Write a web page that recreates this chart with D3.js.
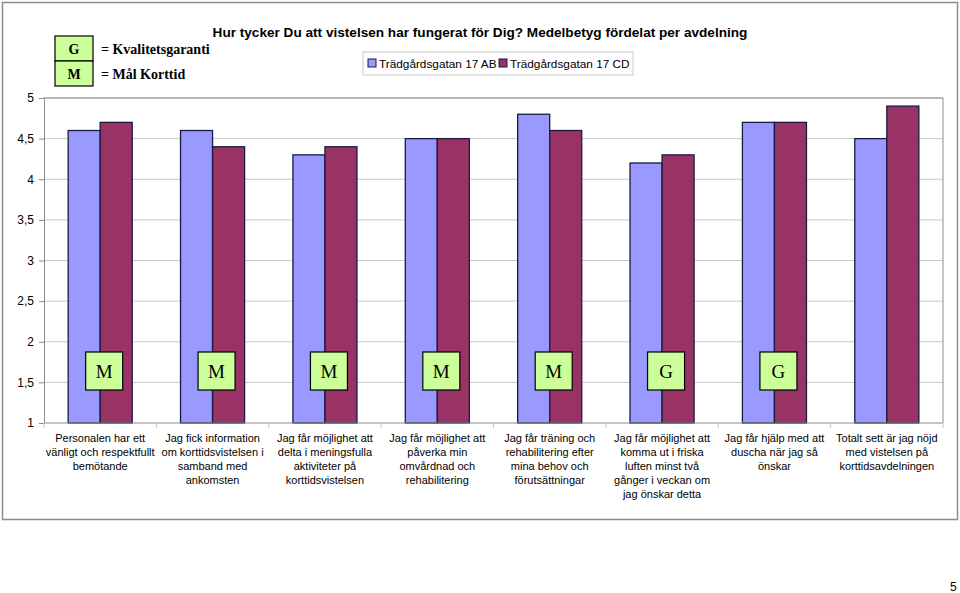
<!DOCTYPE html>
<html>
<head>
<meta charset="utf-8">
<script src="https://cdn.jsdelivr.net/npm/d3@7"></script>
<style>
  body { margin: 0; background: #fff; }
  text { font-family: Arial, "Liberation Sans", sans-serif; }
</style>
</head>
<body>
<div id="chart"></div>
<script>
var categories = [
    ["Personalen har ett", "vänligt och respektfullt", "bemötande"],
    ["Jag fick information", "om korttidsvistelsen i", "samband med", "ankomsten"],
    ["Jag får möjlighet att", "delta i meningsfulla", "aktiviteter på", "korttidsvistelsen"],
    ["Jag får möjlighet att", "påverka min", "omvårdnad och", "rehabilitering"],
    ["Jag får träning och", "rehabilitering efter", "mina behov och", "förutsättningar"],
    ["Jag får möjlighet att", "komma ut i friska", "luften minst två", "gånger i veckan om", "jag önskar detta"],
    ["Jag får hjälp med att", "duscha när jag så", "önskar"],
    ["Totalt sett är jag nöjd", "med vistelsen på", "korttidsavdelningen"]
]
var series_names = ["Trädgårdsgatan 17 AB", "Trädgårdsgatan 17 CD"]
var values_ab = [4.6, 4.6, 4.3, 4.5, 4.8, 4.2, 4.7, 4.5]
var values_cd = [4.7, 4.4, 4.4, 4.5, 4.6, 4.3, 4.7, 4.9]
var markers = ["M", "M", "M", "M", "M", "G", "G", ""]
var y_ticks = [1, 1.5, 2, 2.5, 3, 3.5, 4, 4.5, 5]
var colors = ["#9999ff", "#993366"]

var svg_width = 960
var svg_height = 593
var margin = { top: 98, left: 44, right: 17, bottom: 170 }
var width = svg_width - margin.left - margin.right
var height = svg_height - margin.top - margin.bottom

var svg = d3.select("#chart").append("svg")
    .attr("width", svg_width)
    .attr("height", svg_height)

// outer frame
svg.append("rect")
    .attr("x", 2.5).attr("y", 2.5)
    .attr("width", 955).attr("height", 517)
    .attr("fill", "none").attr("stroke", "#8c8c8c").attr("stroke-width", 1.5)

var chartGroup = svg.append("g")
    .attr("transform", `translate(${margin.left}, ${margin.top})`)

var x_scale = d3.scaleBand()
    .domain(d3.range(categories.length))
    .range([0, width])
    .paddingInner(0.43).paddingOuter(0.215)
var x_outer = d3.scaleBand().domain(d3.range(categories.length)).range([0, width])
var y_scale = d3.scaleLinear().domain([1, 5]).range([height, 0])

// grid
chartGroup.selectAll(".grid")
    .data(y_ticks.slice(1))
    .enter().append("line")
    .attr("x1", 0).attr("x2", width)
    .attr("y1", d => y_scale(d)).attr("y2", d => y_scale(d))
    .attr("stroke", "#c8c8c8")

// plot border (top/right)
chartGroup.append("path")
    .attr("d", `M0,0H${width}V${height}`)
    .attr("fill", "none").attr("stroke", "#8c8c8c")

// bars
var series = [values_ab, values_cd]
series.forEach(function(vals, s) {
    chartGroup.selectAll(".bar" + s)
        .data(vals)
        .enter().append("rect")
        .attr("x", (d, i) => x_scale(i) + s * x_scale.bandwidth() / 2)
        .attr("y", d => y_scale(d))
        .attr("width", x_scale.bandwidth() / 2)
        .attr("height", d => height - y_scale(d))
        .attr("fill", colors[s])
        .attr("stroke", "#1a1a40")
        .attr("stroke-width", 1.3)
})

// axes
var left_axis = d3.axisLeft(y_scale)
    .tickValues(y_ticks)
    .tickSize(5)
    .tickFormat(d => String(d).replace(".", ","))
var yg = chartGroup.append("g").call(left_axis)
yg.select(".domain").attr("stroke", "#8c8c8c")
yg.selectAll(".tick line").attr("stroke", "#8c8c8c")
yg.selectAll(".tick text").attr("font-size", 12).attr("fill", "#000").attr("dx", -2)

var xg = chartGroup.append("g").attr("transform", `translate(0,${height})`)
xg.append("line").attr("x1", 0).attr("x2", width).attr("stroke", "#8c8c8c")
xg.selectAll(".xt")
    .data(d3.range(categories.length + 1))
    .enter().append("line")
    .attr("x1", d => d * x_outer.step()).attr("x2", d => d * x_outer.step())
    .attr("y1", 0).attr("y2", 5)
    .attr("stroke", "#c8c8c8")

var labels = xg.selectAll(".xl")
    .data(categories)
    .enter().append("text")
    .attr("x", (d, i) => x_outer(i) + x_outer.bandwidth() / 2)
    .attr("y", 19)
    .attr("text-anchor", "middle")
    .attr("font-size", 11)
labels.selectAll("tspan")
    .data(d => d)
    .enter().append("tspan")
    .attr("x", function() { return this.parentNode.getAttribute("x") })
    .attr("dy", (d, i) => i == 0 ? 0 : 14)
    .text(d => d)

// M / G markers
var mk = chartGroup.selectAll(".mk")
    .data(markers.map((m, i) => ({ m: m, i: i })).filter(d => d.m))
    .enter().append("g")
    .attr("transform", d => `translate(${x_outer(d.i) + x_outer.bandwidth() / 2 + 4}, ${y_scale(1.64)})`)
mk.append("rect")
    .attr("x", -18.5).attr("y", -19).attr("width", 37).attr("height", 38)
    .attr("fill", "#ccff99").attr("stroke", "#000").attr("stroke-width", 1.2)
mk.append("text")
    .attr("text-anchor", "middle").attr("y", 6.5)
    .style("font-family", "'Liberation Serif', 'Times New Roman', serif")
    .attr("font-size", 19)
    .text(d => d.m)

// key for G / M
var key = [["G", "= Kvalitetsgaranti"], ["M", "= Mål Korttid"]]
var kg = svg.selectAll(".key").data(key).enter().append("g")
    .attr("transform", (d, i) => `translate(55, ${36 + i * 25})`)
kg.append("rect").attr("width", 38).attr("height", 25)
    .attr("fill", "#ccff99").attr("stroke", "#000").attr("stroke-width", 1.2)
kg.append("text").attr("x", 19).attr("y", 18).attr("text-anchor", "middle")
    .style("font-family", "'Liberation Serif', 'Times New Roman', serif")
    .attr("font-size", 14).attr("font-weight", "bold").text(d => d[0])
kg.append("text").attr("x", 46).attr("y", 18)
    .style("font-family", "'Liberation Serif', 'Times New Roman', serif")
    .attr("font-size", 14).attr("font-weight", "bold").text(d => d[1])

// title
svg.append("text")
    .attr("x", 480).attr("y", 37)
    .attr("text-anchor", "middle")
    .attr("font-size", 13.6).attr("font-weight", "bold")
    .text("Hur tycker Du att vistelsen har fungerat för Dig? Medelbetyg fördelat per avdelning")

// series legend
var lg = svg.append("g").attr("transform", "translate(363, 52)")
lg.append("rect").attr("width", 270).attr("height", 23)
    .attr("fill", "#fff").attr("stroke", "#c8c8c8")
var li = lg.selectAll(".li").data(series_names).enter().append("g")
    .attr("transform", (d, i) => `translate(${5 + i * 131}, 0)`)
li.append("rect").attr("x", 0).attr("y", 7).attr("width", 8).attr("height", 8)
    .attr("fill", (d, i) => colors[i]).attr("stroke", "#1a1a40")
li.append("text").attr("x", 11).attr("y", 16).attr("font-size", 11.8).text(d => d)

// page number
svg.append("text").attr("x", 950).attr("y", 591).attr("font-size", 12).text("5")
</script>
</body>
</html>
